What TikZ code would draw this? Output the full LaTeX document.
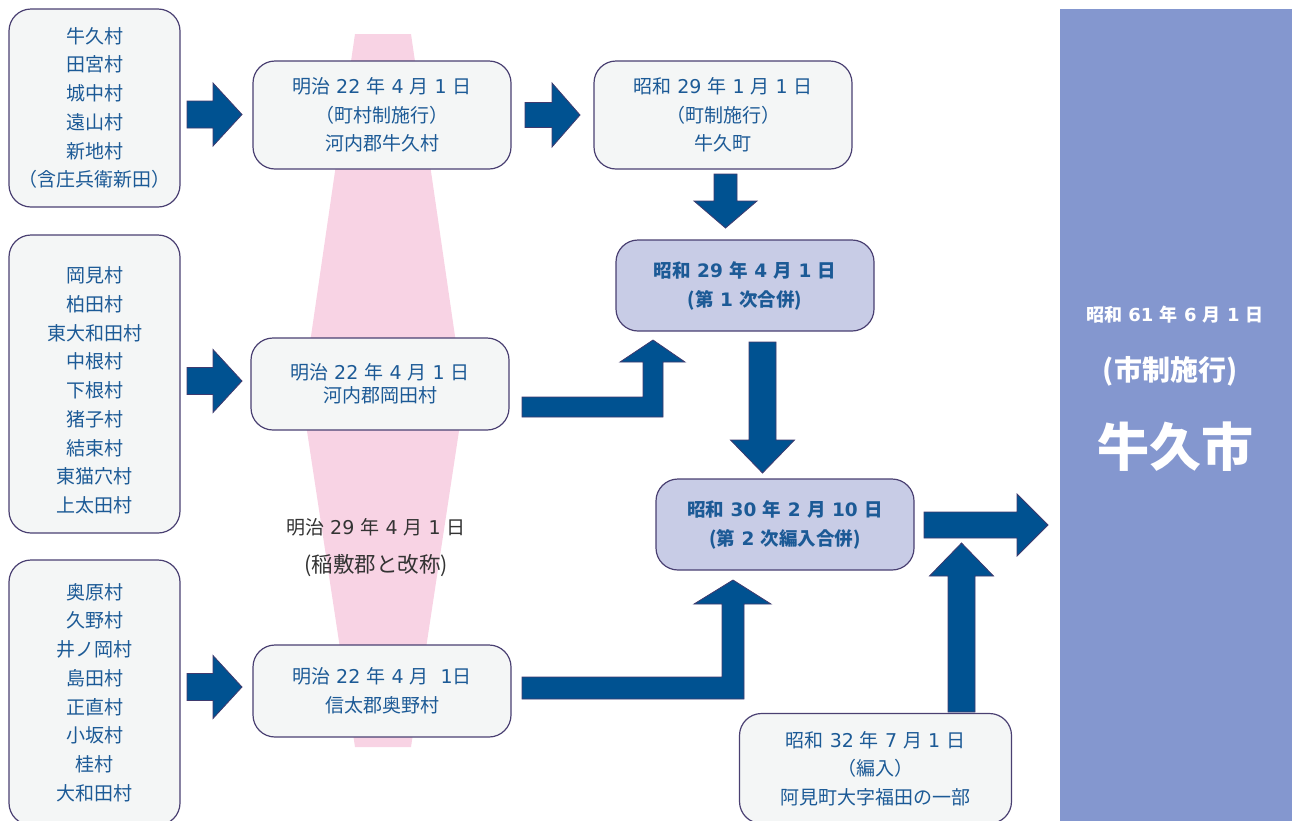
\documentclass[tikz,border=0pt]{standalone}
\usepackage{fontspec}
\setmainfont{Noto Sans CJK JP}
\newfontfamily\dv{DejaVu Sans}
\definecolor{txtblue}{RGB}{28,90,150}
\definecolor{txtgray}{RGB}{51,51,51}
\definecolor{boxfill}{RGB}{244,246,246}
\definecolor{purfill}{RGB}{200,204,230}
\definecolor{bordercol}{RGB}{74,64,114}
\definecolor{arrfill}{RGB}{0,82,145}
\definecolor{arrdraw}{RGB}{63,58,110}
\definecolor{bigfill}{RGB}{132,151,207}
\definecolor{pinkfill}{RGB}{248,211,228}
\newcommand\nm[1]{{\dv\ #1\ }}
\newcommand\rarr[6]{\filldraw[arr] (#1,{#4-#5}) -- (#2,{#4-#5}) -- (#2,{#4-#6}) -- (#3,#4) -- (#2,{#4+#6}) -- (#2,{#4+#5}) -- (#1,{#4+#5}) -- cycle;}
\newcommand\varr[6]{\filldraw[arr] ({#1-#5},#2) -- ({#1-#5},#3) -- ({#1-#6},#3) -- (#1,#4) -- ({#1+#6},#3) -- ({#1+#5},#3) -- ({#1+#5},#2) -- cycle;}
\begin{document}
\begin{tikzpicture}[x=1pt,y=-1pt,
  box/.style={draw=bordercol, line width=1.2pt, fill=boxfill, rounded corners=22pt,
    inner sep=0pt, align=center, text=txtblue, font=\fontsize{19}{28.75}\selectfont},
  pbox/.style={box, fill=purfill, font=\bfseries\fontsize{18.5}{29}\selectfont},
  arr/.style={fill=arrfill, draw=arrdraw, line width=0.8pt, line join=miter},
  lbl/.style={inner sep=0pt, text=txtgray}]
\useasboundingbox (0,0) rectangle (1292,820);
% pink band
\fill[pinkfill] (355,34) -- (411,34) -- (464,398) -- (411,747) -- (355,747) -- (302,398) -- cycle;
\node[lbl, font=\fontsize{19}{22}\selectfont] (p1) at (376,527) {明治\nm{29}年\nm{4}月\nm{1}日};
\node[lbl, font=\fontsize{21.5}{24}\selectfont] (p2) at (376,566) {(稲敷郡と改称)};
% big city block
\node[fill=bigfill, minimum width=232pt, minimum height=821pt, inner sep=0pt, anchor=north west] (city) at (1060,9) {};
\node[text=white, inner sep=0pt, font=\bfseries\fontsize{18}{20}\selectfont] (c1) at (1175,315) {昭和\nm{61}年\nm{6}月\nm{1}日};
\node[text=white, inner sep=0pt, font=\bfseries\fontsize{28}{30}\selectfont] (c2) at (1170,371) {(市制施行)};
\node[text=white, inner sep=0pt, font=\bfseries\fontsize{52}{56}\selectfont] (c3) at (1175,447) {牛久市};
% left boxes
\node[box, minimum width=171pt, minimum height=198pt] (L1) at (94.5,108) {牛久村\\田宮村\\城中村\\遠山村\\新地村\\（含庄兵衛新田）};
\node[box, minimum width=171pt, minimum height=298pt] (L2) at (94.5,384) {};
\node[inner sep=0pt, align=center, text=txtblue, font=\fontsize{19}{28.75}\selectfont] (L2t) at (94.5,390.5) {岡見村\\柏田村\\東大和田村\\中根村\\下根村\\猪子村\\結束村\\東猫穴村\\上太田村};
\node[box, minimum width=171pt, minimum height=265pt] (L3) at (94.5,692.5) {奥原村\\久野村\\井ノ岡村\\島田村\\正直村\\小坂村\\桂村\\大和田村};
% middle boxes
\node[box, minimum width=258pt, minimum height=108pt] (M1) at (382,115) {明治\nm{22}年\nm{4}月\nm{1}日\\（町村制施行）\\河内郡牛久村};
\node[box, minimum width=258pt, minimum height=92pt, font=\fontsize{19}{23.5}\selectfont] (M2) at (380,384) {明治\nm{22}年\nm{4}月\nm{1}日\\河内郡岡田村};
\node[box, minimum width=258pt, minimum height=92pt] (M3) at (382,691) {明治\nm{22}年\nm{4}月{\dv\ \ }{\dv 1}日\\信太郡奥野村};
% right boxes
\node[box, minimum width=258pt, minimum height=108pt] (R1) at (723,115) {昭和\nm{29}年\nm{1}月\nm{1}日\\（町制施行）\\牛久町};
\node[pbox, minimum width=258pt, minimum height=91pt] (R2) at (745,285.5) {昭和\nm{29}年\nm{4}月\nm{1}日\\(第\nm{1}次合併)};
\node[pbox, minimum width=258pt, minimum height=91pt] (R3) at (785,524.5) {昭和\nm{30}年\nm{2}月\nm{10}日\\(第\nm{2}次編入合併)};
\node[box, minimum width=272pt, minimum height=110pt] (R4) at (875.5,768.5) {昭和\nm{32}年\nm{7}月\nm{1}日\\（編入）\\阿見町大字福田の一部};
% block arrows
\rarr{187}{213}{242}{114.5}{13.5}{31.5}
\rarr{187}{213}{242}{381}{13.5}{31.5}
\rarr{187}{213}{242}{687}{13.5}{31.5}
\rarr{525}{552}{580}{115}{12.5}{32}
\varr{725.5}{174}{201}{228}{11.5}{31.5}
\varr{762.5}{342}{440}{473}{13.5}{32}
\rarr{924}{1017}{1048}{525}{13}{31}
\varr{961.5}{712}{576}{543}{13.5}{32}
% elbow arrows
\filldraw[arr] (522,397) -- (643,397) -- (643,362) -- (620,362) -- (653,340) -- (685,362) -- (663,362) -- (663,417) -- (522,417) -- cycle;
\filldraw[arr] (522,677) -- (722,677) -- (722,604) -- (694,604) -- (733,580) -- (771,604) -- (744,604) -- (744,699) -- (522,699) -- cycle;
\end{tikzpicture}
\end{document}
